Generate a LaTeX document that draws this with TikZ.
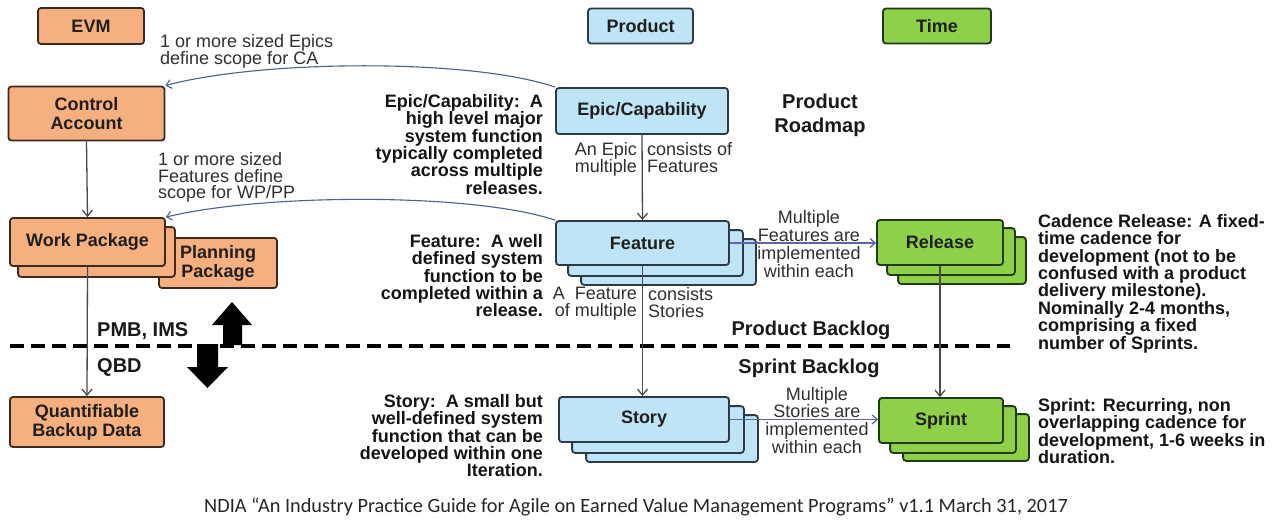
\documentclass[tikz,border=0pt]{standalone}
\usepackage{fontspec}
\setmainfont{Liberation Sans}
\newfontfamily\capfont{Carlito}
\usetikzlibrary{arrows.meta,backgrounds}
\lineskiplimit=-20pt

\definecolor{evmfill}{HTML}{F6B07F}
\definecolor{evmline}{HTML}{3A2A20}
\definecolor{prodfill}{HTML}{BFE4F5}
\definecolor{prodline}{HTML}{2B3B45}
\definecolor{timefill}{HTML}{8FD04B}
\definecolor{timeline}{HTML}{1F3A14}
\definecolor{linkblue}{HTML}{4C5F8E}
\definecolor{flowblue}{HTML}{6262AA}
\definecolor{stemgray}{HTML}{4A4A4A}
\definecolor{notegray}{HTML}{303030}

\tikzset{
  boxline/.style={line width=1.8pt, rounded corners=3pt},
  boxtext/.style={inner sep=0pt, align=center, text=black!88,
    font=\fontsize{18}{19}\selectfont\bfseries},
  evmshape/.style={boxline, draw=evmline, fill=evmfill},
  prodshape/.style={boxline, draw=prodline, fill=prodfill},
  timeshape/.style={boxline, draw=timeline, fill=timefill},
  evmbox/.style={evmshape, boxtext},
  prodbox/.style={prodshape, boxtext},
  timebox/.style={timeshape, boxtext},
  desc/.style={inner sep=0pt, text=black!92,
    font=\fontsize{18}{17.4}\selectfont\bfseries},
  note/.style={inner sep=0pt, text=notegray,
    font=\fontsize{18}{16.8}\selectfont},
  heading/.style={inner sep=0pt, text=black!90, align=center,
    font=\fontsize{20}{24}\selectfont\bfseries},
  link/.style={draw=linkblue, line width=1.1pt,
    -{Straight Barb[length=5pt,width=9pt,line width=1.1pt]}},
  flow/.style={draw=flowblue, line width=1.3pt,
    -{Straight Barb[length=5pt,width=9pt,line width=1.3pt]}},
  stem/.style={draw=stemgray, line width=1.3pt,
    -{Straight Barb[length=6pt,width=10pt,line width=1.3pt]}},
  divider/.style={draw=black, line width=3.6pt, dash pattern=on 14pt off 7pt},
}

\begin{document}
\begin{tikzpicture}[x=1pt, y=-1pt]
\useasboundingbox (0,0) rectangle (1278,523);

% column headings
\node[evmbox, minimum width=106, minimum height=36] (evmhead) at (91,26) {EVM};
\node[prodbox, minimum width=105, minimum height=35] (prodhead) at (640.5,26) {Product};
\node[timebox, minimum width=108, minimum height=35] (timehead) at (937,26) {Time};

% EVM column
\node[evmbox, minimum width=156, minimum height=54] (ca) at (86.5,113.5) {Control\\Account};
\node[evmbox, minimum width=155, minimum height=48] (wp) at (87.5,242) {Work Package};
\node[evmbox, minimum width=154, minimum height=50] (qbd) at (87,422) {Quantifiable\\Backup Data};

% product column
\node[prodbox, minimum width=172, minimum height=46] (epic) at (642,111) {Epic/Capability};
\node[prodbox, minimum width=173, minimum height=44] (feat) at (642.5,243) {Feature};
\node[prodbox, minimum width=170, minimum height=45] (story) at (644,419.5) {Story};

% time column
\node[timebox, minimum width=126, minimum height=45] (rel) at (940,242.5) {Release};
\node[timebox, minimum width=124, minimum height=45] (sprint) at (941,420.5) {Sprint};

% page ground and stacked copies behind the boxes
\begin{scope}[on background layer]
  \fill[white] (0,0) rectangle (1278,523);
  \node[evmbox, minimum width=118, minimum height=50] (pp) at (218,263) {Planning\\Package};
  \draw[evmshape] ([shift={(9,10)}]wp.south west) rectangle ([shift={(9,10)}]wp.north east);
  \foreach \dx/\dy in {26/19,13/10}
    \draw[prodshape] ([shift={(\dx,\dy)}]feat.south west) rectangle ([shift={(\dx,\dy)}]feat.north east);
  \foreach \dx/\dy in {28/19,14/10}
    \draw[prodshape] ([shift={(\dx,\dy)}]story.south west) rectangle ([shift={(\dx,\dy)}]story.north east);
  \foreach \dx/\dy in {22/18,11/9}
    \draw[timeshape] ([shift={(\dx,\dy)}]rel.south west) rectangle ([shift={(\dx,\dy)}]rel.north east);
  \foreach \dx/\dy in {25/17,12/9}
    \draw[timeshape] ([shift={(\dx,\dy)}]sprint.south west) rectangle ([shift={(\dx,\dy)}]sprint.north east);
\end{scope}

% backlog divider
\draw[divider] (10,346) -- (1010,346);

% connectors
\draw[link] (epic.north west) .. controls (470,58) and (260,60) .. (ca.north east);
\draw[link] (feat.north west) .. controls (470,192) and (260,194) .. (wp.north east);
\draw[stem] (ca.south) -- (wp.north);
\draw[stem] (wp.south) -- (qbd.north);
\draw[stem] (epic.south) -- (feat.north);
\draw[stem] (feat.south) -- (feat.south |- story.north);
\draw[stem] (rel.south) -- (rel.south |- sprint.north);
\draw[flow] (feat.east) -- (feat.east -| rel.west);
\draw[flow] (story.east) -- (story.east -| sprint.west);

% baseline transfer arrows
\fill[black] (223,345) -- (223,325) -- (212,325) -- (232,302) -- (252,325) -- (242,325) -- (242,345) -- cycle;
\fill[black] (197,344) -- (218,344) -- (218,367) -- (228,367) -- (207.5,388) -- (187,367) -- (197,367) -- cycle;

% annotations
\node[note, anchor=north west, align=left] (epicscope) at (160,34) {1 or more sized Epics\\define scope for CA};
\node[note, anchor=north west, align=left] (featscope) at (158,152) {1 or more sized\\Features define\\scope for WP/PP};
\node[heading, anchor=base west] (pmb) at (97,336) {PMB, IMS};
\node[heading, anchor=base west] (qbdlbl) at (97,372) {QBD};

\node[desc, anchor=north east, align=right] (epicdesc) at (543,94)
  {Epic/Capability:\ \ A\\high level major\\system function\\typically completed\\across multiple\\releases.};
\node[desc, anchor=north east, align=right] (featdesc) at (543,234)
  {Feature:\ \ A well\\defined system\\function to be\\completed within a\\release.};
\node[desc, anchor=north east, align=right] (storydesc) at (543,394)
  {Story:\ \ A small but\\well-defined system\\function that can be\\developed within one\\Iteration.};
\node[desc, anchor=north west, align=left] (reldesc) at (1038,214)
  {Cadence Release: A fixed-\\time cadence for\\development (not to be\\confused with a product\\delivery milestone).\\Nominally 2-4 months,\\comprising a fixed\\number of Sprints.};
\node[desc, anchor=north west, align=left] (sprintdesc) at (1038,398)
  {Sprint: Recurring, non\\overlapping cadence for\\development, 1-6 weeks in\\duration.};

\node[heading, anchor=north] (roadmap) at (820,94) {Product\\Roadmap};
\node[heading, anchor=base] (pbacklog) at (811,335) {Product Backlog};
\node[heading, anchor=base] (sbacklog) at (809,373) {Sprint Backlog};

\node[note, anchor=north east, align=right] (epicl) at (637,142) {An Epic\\multiple};
\node[note, anchor=north west, align=left] (epicr) at (647,142) {consists of\\Features};
\node[note, anchor=north east, align=right] (featl) at (637,287) {A\ \ Feature\\of multiple};
\node[note, anchor=north west, align=left] (featr) at (648,287) {consists\\Stories};

\node[note, anchor=north, align=center, font=\fontsize{18}{18}\selectfont] (featflow) at (809,210)
  {Multiple\\Features are\\implemented\\within each};
\node[note, anchor=north, align=center, font=\fontsize{18}{17.7}\selectfont] (storyflow) at (817,387)
  {Multiple\\Stories are\\implemented\\within each};

% source line
\node[inner sep=0pt, anchor=base, text=black!85, font=\capfont\fontsize{20.3}{22}\selectfont] (source) at (636,512)
  {NDIA “An Industry Practice Guide for Agile on Earned Value Management Programs” v1.1 March 31, 2017};
\end{tikzpicture}
\end{document}
